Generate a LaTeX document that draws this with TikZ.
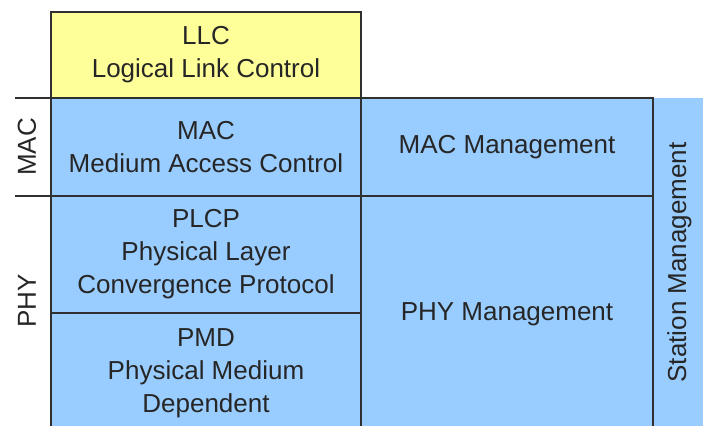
\documentclass[tikz,border=0pt]{standalone}
\usepackage{fontspec}
\setmainfont{Liberation Sans}
\usetikzlibrary{positioning}

\definecolor{layerblue}{HTML}{99CCFF}
\definecolor{llcyellow}{HTML}{FFFF99}
\definecolor{rule}{HTML}{303030}

\begin{document}
\begin{tikzpicture}[x=0.5pt, y=-0.5pt,
  txt/.style={text=black!85, font=\fontsize{13}{16.5}\selectfont},
  layer/.style={txt, draw=rule, line width=0.75pt, fill=layerblue, outer sep=0pt,
    inner sep=0pt, align=center, minimum width=155pt},
  mgmt/.style={layer, minimum width=146pt},
  side/.style={txt, rotate=90},
  tick/.style={draw=rule, line width=0.75pt}]
  \useasboundingbox (0,0) rectangle (703,426);
  \clip (0,0) rectangle (703,426);

  % station management column on the right
  \node[side, fill=layerblue, inner sep=0pt, minimum width=164pt, minimum height=26pt,
    anchor=north east] (station) at (653,98) {Station Management};

  % protocol stack
  \node[layer, fill=llcyellow, minimum height=43pt, anchor=north west] (llc) at (51,12)
    {LLC\\Logical Link Control};
  \node[layer, minimum height=49pt, below=0pt of llc] (mac)
    {MAC\\Medium Access Control};
  \node[layer, minimum height=58.5pt, below=0pt of mac] (plcp)
    {PLCP\\Physical Layer\\Convergence Protocol};
  \node[layer, minimum height=60pt, below=0pt of plcp] (pmd)
    {PMD\\Physical Medium\\Dependent};

  % management planes
  \node[mgmt, minimum height=49pt, right=0pt of mac] (macmgmt) {MAC Management};
  \node[mgmt, minimum height=118.5pt, below=0pt of macmgmt] (phymgmt) {PHY Management};

  % sublayer brackets
  \draw[tick] (mac.north west) -- ++(-36,0);
  \draw[tick] (plcp.north west) -- ++(-36,0);
  \node[side] (maclabel) at (27,147) {MAC};
  \node[side] (phylabel) at (27,301) {PHY};
\end{tikzpicture}
\end{document}
